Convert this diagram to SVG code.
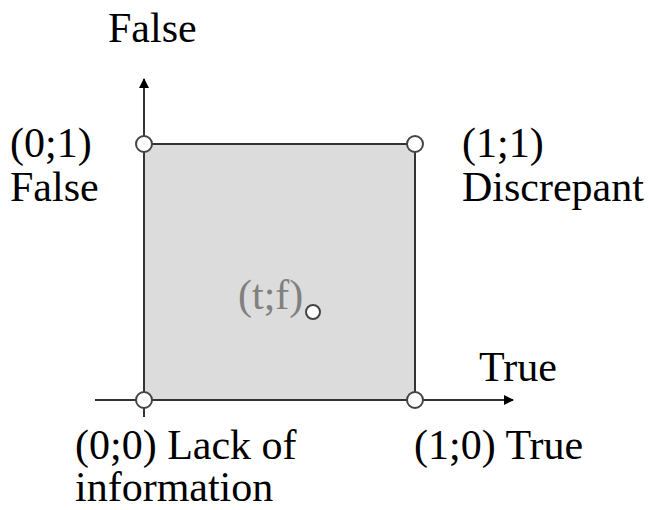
<svg xmlns="http://www.w3.org/2000/svg" width="649" height="510" viewBox="0 0 649 510">
<style>
text{font-family:"Liberation Serif","Times New Roman",serif;font-size:42px;fill:#000}
.ax{stroke:#333;stroke-width:2;fill:none}
.pt{fill:#fff;stroke:#444;stroke-width:2}
</style>
<defs>
<marker id="ah" markerWidth="10" markerHeight="10" refX="9" refY="5" orient="auto" markerUnits="userSpaceOnUse"><path d="M0,0 L10,5 L0,10 Z" fill="#000"/></marker>
</defs>
<rect width="649" height="510" fill="#fff"/>
<g id="square"><rect x="144" y="144" width="271" height="256" fill="#dcdcdc" stroke="#333" stroke-width="2"/></g>
<g id="connectors">
<line class="ax" x1="144" y1="417" x2="144" y2="79" marker-end="url(#ah)"/>
<line class="ax" x1="95" y1="400" x2="513" y2="400" marker-end="url(#ah)"/>
</g>
<g id="p01"><circle class="pt" cx="144" cy="144" r="8"/><text x="10" y="157">(0;1)</text><text x="10" y="201">False</text></g>
<g id="p11"><circle class="pt" cx="415" cy="144" r="8"/><text x="462" y="157">(1;1)</text><text x="462" y="201">Discrepant</text></g>
<g id="p00"><circle class="pt" cx="144" cy="400" r="8"/><text x="75" y="459">(0;0) Lack of</text><text x="75" y="501">information</text></g>
<g id="p10"><circle class="pt" cx="415" cy="400" r="8"/><text x="414" y="459">(1;0) True</text></g>
<g id="ptf"><circle class="pt" cx="313" cy="312" r="7"/><text x="238" y="309" style="fill:#808080">(t;f)</text></g>
<g id="labels"><text x="108" y="42">False</text><text x="479" y="381">True</text></g>
</svg>
